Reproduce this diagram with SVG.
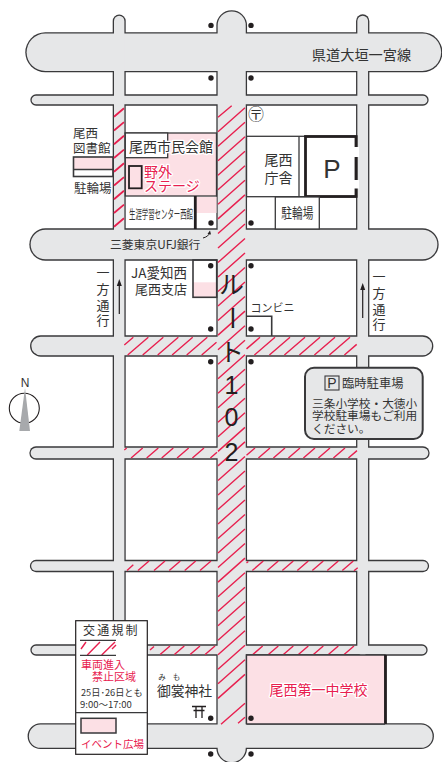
<svg xmlns="http://www.w3.org/2000/svg" width="442" height="762" viewBox="0 0 442 762">
<style>
text{font-family:"Noto Sans CJK JP","Noto Sans",sans-serif;fill:#333}
.lat{font-family:"Liberation Sans",sans-serif}
.m{text-anchor:middle}
text.red{fill:#e8204f}
.halo{paint-order:stroke;stroke:#fff;stroke-width:2.6px;stroke-linejoin:round}
.rd{stroke-linecap:round;fill:none}
.o{stroke:#39393b}
.g{stroke:#e6e7e8}
.ln{fill:none;stroke:#39393b;stroke-width:1.3}
.th{fill:none;stroke:#231f20;stroke-width:2.8}
.pk{fill:#fce0e5}
.dot{fill:#231f20}
.ht{fill:none;stroke:#e8204f;stroke-width:1.4}
</style>
<rect width="442" height="762" fill="#fff"/>

<g id="roads">
<g class="rd o">
<line x1="45.3" y1="52.3" x2="422.4" y2="52.3" stroke-width="40"/>
<line x1="36" y1="100" x2="423" y2="100" stroke-width="11.3"/>
<line x1="45.5" y1="244.5" x2="422.5" y2="244.5" stroke-width="32.3"/>
<line x1="40.7" y1="346" x2="422.7" y2="346" stroke-width="21.3"/>
<line x1="36" y1="453" x2="423" y2="453" stroke-width="13.3"/>
<line x1="36" y1="566" x2="423" y2="566" stroke-width="12.3"/>
<line x1="36" y1="650" x2="422" y2="650" stroke-width="11.3"/>
<line x1="40.5" y1="736.2" x2="421" y2="736.2" stroke-width="25.8"/>
<line x1="119.2" y1="21" x2="119.2" y2="730" stroke-width="13"/>
<line x1="231.7" y1="25.5" x2="231.7" y2="748" stroke-width="30.7"/>
<line x1="362.7" y1="21" x2="362.7" y2="650" stroke-width="13.3"/>
</g>
<g class="rd g">
<line x1="45.3" y1="52.3" x2="422.4" y2="52.3" stroke-width="37.4"/>
<line x1="36" y1="100" x2="423" y2="100" stroke-width="8.7"/>
<line x1="45.5" y1="244.5" x2="422.5" y2="244.5" stroke-width="29.7"/>
<line x1="40.7" y1="346" x2="422.7" y2="346" stroke-width="18.7"/>
<line x1="36" y1="453" x2="423" y2="453" stroke-width="10.7"/>
<line x1="36" y1="566" x2="423" y2="566" stroke-width="9.7"/>
<line x1="36" y1="650" x2="422" y2="650" stroke-width="8.7"/>
<line x1="40.5" y1="736.2" x2="421" y2="736.2" stroke-width="23.2"/>
<line x1="119.2" y1="21" x2="119.2" y2="730" stroke-width="10.4"/>
<line x1="231.7" y1="25.5" x2="231.7" y2="748" stroke-width="28.1"/>
<line x1="362.7" y1="21" x2="362.7" y2="650" stroke-width="10.7"/>
</g>
</g>

<g id="hatching" class="ht">
<path id="hatch-center" d="M218 117.200L231.700 105.700M218 131.700l27-24m-27 38.530l27-24m-27 38.530l27-24m-27 38.530l27-24m-27 38.530l27-24m-27 38.530l27-24m-27 38.530l27-24m-27 38.530l27-24m-27 38.530l27-24m-27 38.530l27-24m-27 38.530l27-24m-27 38.530l27-24m-27 38.530l27-24m-27 38.530l27-24m-27 38.530l27-24m-27 38.530l27-24m-27 38.530l27-24m-27 38.530l27-24m-27 38.530l27-24m-27 38.530l27-24m-27 38.530l27-24m-27 38.530l27-24m-27 38.530l27-24m-27 38.530l27-24m-27 38.530l27-24m-27 38.530l27-24m-27 38.530l27-24m-27 38.530l27-24m-27 38.530l27-24m-27 38.530l27-24m-27 38.530l27-24m-27 38.530l27-24m-27 38.530l27-24m-27 38.530l27-24m-27 38.530l27-24m-27 38.530l27-24m-27 38.530l27-24m-27 38.530l27-24m-27 38.530l27-24m-27 38.530l27-24M221 724.300L245 703.300M238 723.300L245 717.300"/>
<path id="hatch-r4" d="M124.300 345L133.300 337.300M127.700 355l20.600-17.700M142.700 355l20.600-17.700M157.700 355l20.600-17.700M172.100 355l20.600-17.700M186.700 355l20.600-17.700M201.700 355L216.500 342.300M246.500 348.900L260 337.300M254.400 355L275 337.300M269.400 355L290 337.300M284.400 355L305 337.300M299.400 355L320 337.300M314.400 355L335 337.300M329.400 355L350 337.300M344.400 355L356.700 344.400"/>
<path id="hatch-r5" d="M124.300 450L126.700 448M131.100 458l11.600-10M146.700 458l11.600-10M161.700 458l11.600-10M177.100 458l11.600-10M192.400 458l11.600-10M210.400 458L217 452.300M246.500 455.300L255 448M258.400 458L270 448M273.400 458L285 448M288.400 458L300 448M303.400 458L315 448M318.400 458L330 448M333.400 458L345 448M348.400 458L357 450.600"/>
<path id="hatch-r6" d="M127 570.500L133.300 564.800M138 570.500l11-9.500M154 570.500l11-9.500M169.300 570.500l11-9.500M184.700 570.500l11-9.500M200 570.500l11-9.500M246.500 563L248.300 561.500M252.300 570.500l11-9.500M267.300 570.500l11-9.500M282.300 570.500l11-9.500M297.300 570.500l11-9.500M312.300 570.500l11-9.500M327.300 570.500l11-9.500M342.300 570.500l11-9.500M354 570.700L357.700 567.700"/>
<path id="hatch-r7" d="M150 650L154 646.500M160.100 654.500l9.900-8.500M174.400 654.500l9.900-8.500M190.100 654.500l9.900-8.500M205.100 654.500l9.900-8.500M252.800 654.500l9.900-8.500M268.400 654.500l9.900-8.500M283.400 654.500l9.900-8.500M298.400 654.500l9.900-8.500M313.400 654.500l9.900-8.500M328.400 654.500l9.900-8.500M344.100 654.500l9.900-8.500"/>
</g>

<g id="library">
<rect x="73.500" y="157" width="39.500" height="12.500" class="pk"/>
<rect x="73.500" y="157" width="39.500" height="19.500" class="ln" style="stroke-width:1.600"/>
<line x1="73.500" y1="169.500" x2="113" y2="169.500" class="ln"/>
<text x="73" y="138" font-size="12.500">尾西</text>
<text x="73" y="153" font-size="12.500">図書館</text>
<text x="74" y="193" font-size="12.500">駐輪場</text>
</g>

<g id="civic-hall">
<rect x="125.300" y="133" width="91.200" height="63" class="pk"/>
<rect x="125.300" y="133" width="91.200" height="63" class="ln"/>
<rect x="125.300" y="133" width="42.400" height="24.700" class="ln" style="fill:#fff"/>
<text x="129" y="151.500" font-size="14" class="halo">尾西市民会館</text>
</g>
<g id="stage">
<rect x="129" y="166" width="12.700" height="22.300" class="pk"/>
<rect x="129" y="166" width="12.700" height="22.300" class="th" style="stroke-width:1.800"/>
<text x="144" y="177" font-size="14" class="red halo">野外</text>
<text x="144" y="191" font-size="14" class="red halo">ステージ</text>
</g>
<g id="center-west">
<rect x="196" y="197" width="20.500" height="16" class="pk"/>
<line x1="195.300" y1="196" x2="195.300" y2="229" class="th"/>
<text x="161" y="219" font-size="12.500" class="m" textLength="64" lengthAdjust="spacingAndGlyphs">生涯学習センター西館</text>
</g>
<g id="bank"><text x="110" y="248.500" font-size="11.800">三菱東京UFJ銀行</text>
<path d="M203 238C207 237 209 235 209.500 233" fill="none" stroke="#231f20"/><path d="M207.500 234L210 230.500L211 234.500Z" fill="#231f20"/></g>

<g id="post-office"><text x="256" y="120" font-size="16" class="m">〶</text></g>
<g id="city-office">
<rect x="246.500" y="136.300" width="110.200" height="60.400" class="ln"/>
<line x1="299" y1="136.300" x2="299" y2="196.700" class="ln"/>
<text x="278.500" y="165" font-size="14" class="m">尾西</text>
<text x="278.500" y="183" font-size="14" class="m">庁舎</text>
</g>
<g id="parking">
<rect x="305.500" y="136.500" width="50.500" height="60" class="th" style="fill:#fff"/>
<rect x="354" y="147" width="5" height="10" fill="#fff"/>
<rect x="354" y="180" width="5" height="8.500" fill="#fff"/>
<text x="332" y="178" font-size="26" class="m lat">P</text>
</g>
<g id="bike-parking"><rect x="275.300" y="197" width="44" height="32" class="ln" style="fill:#fff"/>
<text x="297.300" y="218" font-size="14" class="m" textLength="32" lengthAdjust="spacingAndGlyphs">駐輪場</text></g>
<g id="road-name"><text x="361.500" y="59.500" font-size="14.200" class="m">県道大垣一宮線</text></g>

<g id="ja-bank">
<rect x="193" y="282.300" width="23.500" height="15" class="pk"/>
<rect x="193" y="260" width="23.700" height="37.300" class="ln" style="stroke-width:1.600"/>
<text x="131" y="278" font-size="13.500">JA愛知西</text>
<text x="135" y="294" font-size="13">尾西支店</text>
</g>
<g id="konbini">
<path d="M246.500 316.300H271.700V336" class="ln" style="stroke-width:1.600"/>
<text x="250.500" y="311.500" font-size="11">コンビニ</text>
</g>

<g id="one-way-west">
<line x1="119.300" y1="314" x2="119.300" y2="284" stroke="#231f20" stroke-width="1.200"/>
<path d="M119.300 279L116.800 286H121.800Z" fill="#231f20"/>
<text x="103 103 103 103" y="277 294 310 325" font-size="13" class="m">一方通行</text>
</g>
<g id="one-way-east">
<line x1="362.700" y1="318" x2="362.700" y2="288" stroke="#231f20" stroke-width="1.200"/>
<path d="M362.700 283L360.200 290H365.200Z" fill="#231f20"/>
<text x="379 379 379 379" y="281 298 314 329" font-size="13" class="m">一方通行</text>
</g>

<g id="route-label" font-size="25">
<text x="231.500" y="294" class="m" style="fill:#231f20">ル</text>
<text transform="translate(231.500 318) rotate(90)" class="m" y="8.500" style="fill:#231f20">ー</text>
<text x="231.500" y="361" class="m" style="fill:#231f20">ト</text>
<text x="231.500" y="394" class="m lat" style="fill:#231f20">1</text>
<text x="231.500" y="426" class="m lat" style="fill:#231f20">0</text>
<text x="231.500" y="461" class="m lat" style="fill:#231f20">2</text>
</g>

<g id="temp-parking">
<rect x="305" y="367.700" width="117.700" height="71.300" rx="9" fill="#e6e7e8" stroke="#39393b" stroke-width="2"/>
<rect x="325" y="376" width="14" height="14" fill="none" stroke="#39393b" stroke-width="1.100"/>
<text x="332" y="388" font-size="14" class="m lat">P</text>
<text x="342" y="388" font-size="12.300">臨時駐車場</text>
<text x="312" y="407.500" font-size="11.700">三条小学校・大徳小</text>
<text x="312" y="420" font-size="11.700">学校駐車場もご利用</text>
<text x="312" y="432.500" font-size="11.700">ください。</text>
</g>

<g id="compass">
<circle cx="24.300" cy="408.300" r="15" fill="#fff" stroke="#231f20" stroke-width="1.100"/>
<path d="M25 388L30 431H19.300Z" fill="#a7a9ac"/>
<text x="25" y="387" font-size="12" class="m lat">N</text>
</g>

<g id="school">
<rect x="246.500" y="655" width="138" height="69" class="pk"/>
<path d="M246.500 724V655H385V724" class="ln"/>
<line x1="385.500" y1="655" x2="385.500" y2="724" class="th"/>
<line x1="246.500" y1="724" x2="385" y2="724" class="ln"/>
<text x="318.500" y="695" font-size="14" class="m red halo">尾西第一中学校</text>
</g>

<g id="shrine">
<text x="162" y="680" font-size="7.500" class="m">み</text>
<text x="176.500" y="680" font-size="7.500" class="m">も</text>
<text x="184.500" y="696" font-size="13.800" class="m">御裳神社</text>
<path d="M192 706.500H206M193.500 710.500H204.500M196 706.500V718M202 706.500V718" fill="none" stroke="#231f20" stroke-width="1.300"/>
</g>

<g id="dots" class="dot">
<circle cx="211" cy="25.400" r="2.700"/><circle cx="251" cy="25.400" r="2.700"/>
<circle cx="211" cy="78" r="2.700"/><circle cx="251" cy="78" r="2.700"/>
<circle cx="211" cy="223" r="2.700"/><circle cx="251" cy="223" r="2.700"/>
<circle cx="210.700" cy="265.700" r="2.700"/><circle cx="251" cy="265.700" r="2.700"/>
<circle cx="210.700" cy="329" r="2.700"/><circle cx="251" cy="329" r="2.700"/>
<circle cx="210.700" cy="361.700" r="2.700"/><circle cx="251" cy="361.700" r="2.700"/>
<circle cx="210.700" cy="718.300" r="2.700"/><circle cx="251" cy="718.300" r="2.700"/>
<circle cx="210.700" cy="754" r="2.700"/><circle cx="251" cy="754" r="2.700"/>
</g>

<g id="legend">
<rect x="75.700" y="620.700" width="71.600" height="133.600" fill="#fff" stroke="#231f20" stroke-width="1.200"/>
<line x1="75.700" y1="712.700" x2="147.300" y2="712.700" stroke="#39393b" stroke-width="1.200"/>
<text x="83" y="635" font-size="12" letter-spacing="2.200">交通規制</text>
<path d="M81 649L86 642M87.300 655L100 642M101.700 655L115 642M112 649L116 645" class="ht"/>
<path d="M80 640.300H116M80 655.300H116" class="ln"/>
<text x="81" y="668.500" font-size="11" class="red">車両進入</text>
<text x="92" y="681" font-size="11" class="red">禁止区域</text>
<text x="81" y="696" font-size="9.200">25日･26日とも</text>
<text x="80" y="708" font-size="9.500">9:00～17:00</text>
<rect x="81" y="718.300" width="35" height="14.700" class="pk" stroke="#39393b" stroke-width="1.500"/>
<text x="81" y="748" font-size="10.500" class="red">イベント広場</text>
</g>

<path id="hatch-west" class="ht" style="stroke-width:1.800" d="M114 116.700L124 108.300M114 130.500L124 122.100M114 144.200L124 135.800M114 158L124 149.600M114 171.700L124 163.300M114 185.500L124 177.100M114 199.200L124 190.800M114 213L124 204.600M114 226.700L124 218.300"/>
</svg>
